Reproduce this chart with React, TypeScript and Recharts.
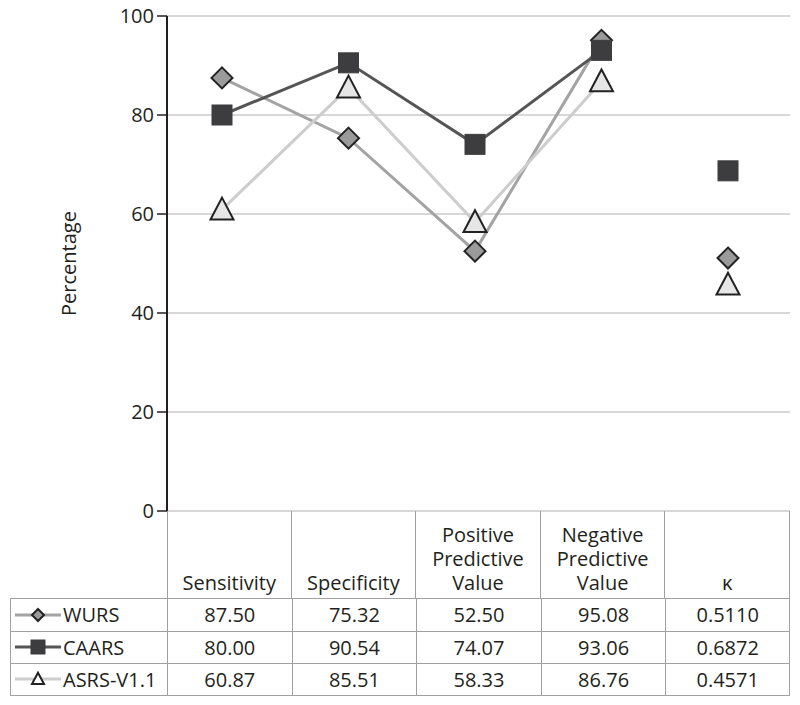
import React from 'react';
import { ComposedChart, Line, XAxis, YAxis, CartesianGrid } from 'recharts';

const categories = ['Sensitivity', 'Specificity', 'Positive Predictive Value', 'Negative Predictive Value', 'κ'];
const seriesNames = ['WURS', 'CAARS', 'ASRS-V1.1'];
const wurs = [87.5, 75.32, 52.5, 95.08, 0.511];
const caars = [80.0, 90.54, 74.07, 93.06, 0.6872];
const asrs = [60.87, 85.51, 58.33, 86.76, 0.4571];
const yTicks = [0, 20, 40, 60, 80, 100];

const FONT = '"Open Sans", "Noto Sans", sans-serif';
const TEXT = '#231f20';

const styles = [
  { key: 'wurs', values: wurs, line: '#a3a3a3', fill: '#9a9a9a', stroke: '#222', shape: 'diamond' },
  { key: 'asrs', values: asrs, line: '#cdcdcd', fill: '#e6e6e6', stroke: '#222', shape: 'triangle' },
  { key: 'caars', values: caars, line: '#555555', fill: '#3d3d3f', stroke: '#3d3d3f', shape: 'square' },
];

// the kappa column is drawn as loose points (x100), not joined to the lines
const chartData = categories.map((c, i) => {
  const row: any = { category: c };
  styles.forEach((s) => {
    const isKappa = i === categories.length - 1;
    row[s.key] = isKappa ? null : s.values[i];
    row[s.key + 'K'] = isKappa ? s.values[i] * 100 : null;
  });
  return row;
});

function Marker({ cx, cy, shape, fill, stroke, size }: any) {
  if (cx == null || cy == null) return null;
  const h = size / 2;
  if (shape === 'diamond') {
    return <polygon points={`${cx},${cy - h} ${cx + h},${cy} ${cx},${cy + h} ${cx - h},${cy}`} fill={fill} stroke={stroke} strokeWidth={2} />;
  }
  if (shape === 'square') {
    return <rect x={cx - h} y={cy - h} width={size} height={size} fill={fill} stroke={stroke} strokeWidth={1} />;
  }
  return <polygon points={`${cx},${cy - h * 1.05} ${cx + h},${cy + h * 0.85} ${cx - h},${cy + h * 0.85}`} fill={fill} stroke={stroke} strokeWidth={2} strokeLinejoin="miter" />;
}

const markerSize: any = { diamond: 21, square: 20, triangle: 23 };

function dotFor(s: any) {
  return (props: any) => (
    <Marker key={`${s.key}-${props.index}`} cx={props.cx} cy={props.cy} shape={s.shape} fill={s.fill} stroke={s.stroke} size={markerSize[s.shape]} />
  );
}

function Swatch({ s }: any) {
  return (
    <svg width={50} height={20} style={{ display: 'block' }}>
      <line x1={4} y1={10} x2={50} y2={10} stroke={s.line} strokeWidth={3} />
      <Marker cx={27} cy={10} shape={s.shape} fill={s.key === 'asrs' ? '#fff' : s.fill} stroke={s.stroke} size={s.shape === 'square' ? 14 : 12} />
    </svg>
  );
}

const PLOT_LEFT = 167;
const PLOT_RIGHT = 790;
const TABLE_TOP = 511;
const HEAD_H = 87;
const ROW_H = 32.5;
const COL_W = (PLOT_RIGHT - PLOT_LEFT) / categories.length;

const legendOrder = [styles[0], styles[2], styles[1]];
const legendNames: any = { wurs: seriesNames[0], caars: seriesNames[1], asrs: seriesNames[2] };

function fmt(v: number, i: number) {
  return i === categories.length - 1 ? v.toFixed(4) : v.toFixed(2);
}

export default function App() {
  const border = '1px solid #a0a0a0';
  return (
    <div style={{ position: 'absolute', left: 0, top: 0, width: 800, height: 705, background: '#fff', fontFamily: FONT, color: TEXT }}>
      <ComposedChart width={800} height={535} data={chartData} margin={{ top: 16, right: 10, bottom: 24, left: 0 }}>
        <CartesianGrid vertical={false} stroke="#b0b0b0" strokeWidth={1} />
        <XAxis dataKey="category" scale="point" padding={{ left: 55, right: 62 }} tick={false} tickLine={false} height={0}
          axisLine={{ stroke: '#231f20', strokeWidth: 2 }} />
        <YAxis width={PLOT_LEFT} domain={[0, 100]} ticks={yTicks} interval={0} tickSize={10} tickMargin={3}
          axisLine={{ stroke: '#231f20', strokeWidth: 2 }} tickLine={{ stroke: '#231f20', strokeWidth: 1.5 }}
          tick={{ fill: TEXT, fontSize: 20, fontFamily: FONT }}
          label={{ value: 'Percentage', angle: -90, position: 'center', dx: -15, fill: TEXT, fontSize: 20, fontFamily: FONT }} />
        {styles.map((s) => (
          <Line key={s.key} type="linear" dataKey={s.key} stroke={s.line} strokeWidth={3} dot={dotFor(s)} activeDot={false}
            isAnimationActive={false} connectNulls={false} />
        ))}
        {styles.map((s) => (
          <Line key={s.key + 'K'} type="linear" dataKey={s.key + 'K'} stroke="none" dot={dotFor(s)} activeDot={false}
            isAnimationActive={false} legendType="none" />
        ))}
      </ComposedChart>

      {/* data table under the axis */}
      {categories.map((c, i) => (
        <div key={c} style={{
          position: 'absolute', left: PLOT_LEFT + i * COL_W, top: TABLE_TOP, width: COL_W, height: HEAD_H,
          borderRight: border, borderLeft: i === 0 ? border : 'none', boxSizing: 'border-box',
          display: 'flex', alignItems: 'flex-end', justifyContent: 'center', textAlign: 'center',
          fontSize: 20, lineHeight: '24px', paddingBottom: 3, paddingLeft: 4, paddingRight: 4,
        }}>
          <span>{c}</span>
        </div>
      ))}
      {legendOrder.map((s, r) => (
        <React.Fragment key={s.key}>
          <div style={{
            position: 'absolute', left: 10, top: TABLE_TOP + HEAD_H + r * ROW_H, width: PLOT_LEFT - 10, height: ROW_H,
            borderLeft: border, borderTop: border, borderBottom: r === 2 ? border : 'none', boxSizing: 'border-box',
            display: 'flex', alignItems: 'center', fontSize: 20, gap: 2,
          }}>
            <Swatch s={s} />
            <span>{legendNames[s.key]}</span>
          </div>
          {s.values.map((v, i) => (
            <div key={i} style={{
              position: 'absolute', left: PLOT_LEFT + i * COL_W, top: TABLE_TOP + HEAD_H + r * ROW_H, width: COL_W, height: ROW_H,
              borderLeft: border, borderTop: border, borderRight: i === categories.length - 1 ? border : 'none',
              borderBottom: r === 2 ? border : 'none', boxSizing: 'border-box',
              display: 'flex', alignItems: 'center', justifyContent: 'center', fontSize: 20,
            }}>
              {fmt(v, i)}
            </div>
          ))}
        </React.Fragment>
      ))}
    </div>
  );
}
